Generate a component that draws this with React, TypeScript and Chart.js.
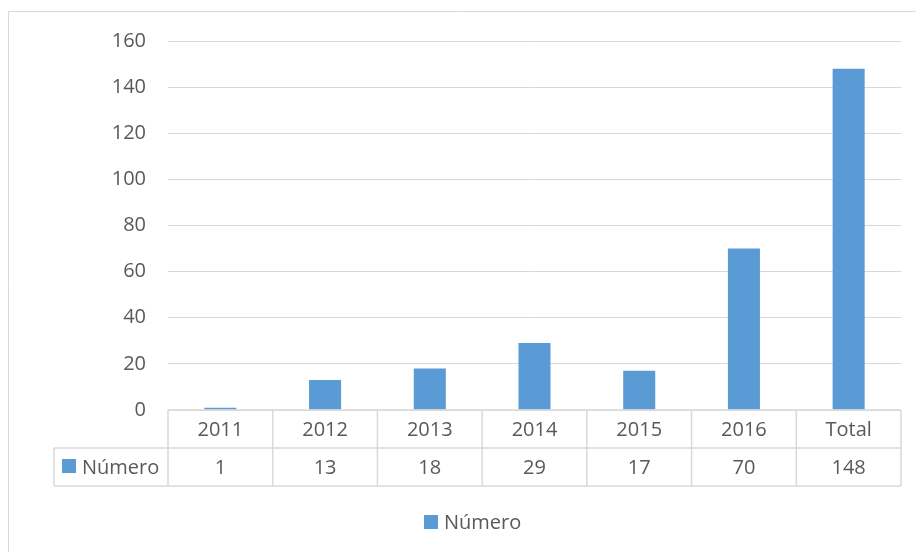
import React, { useEffect, useRef } from "react";
import { Chart, registerables } from "chart.js";

Chart.register(...registerables);

const categories: string[] = ["2011", "2012", "2013", "2014", "2015", "2016", "Total"];
const values: number[] = [1, 13, 18, 29, 17, 70, 148];
const seriesLabel = "Número";
const yMin = 0;
const yMax = 160;
const yStep = 20;

const FONT = "'Open Sans', sans-serif";
const TEXT_COLOR = "#595959";
const LINE_COLOR = "#d9d9d9";
const BAR_COLOR = "#5b9bd5";

const tablePlugin = {
  id: "dataTablePlugin",
  afterDraw(chart: any) {
    const ctx: CanvasRenderingContext2D = chart.ctx;
    const area = chart.chartArea;
    const xs = chart.scales.x;
    const n = categories.length;
    const edges: number[] = [area.left];
    for (let i = 1; i < n; i++) {
      edges.push((xs.getPixelForTick(i - 1) + xs.getPixelForTick(i)) / 2);
    }
    edges.push(area.right);
    const rowH = 38;
    const top = area.bottom;
    const mid = top + rowH;
    const bot = top + 2 * rowH;
    const labelLeft = 54;

    ctx.save();
    // outer chart border
    ctx.strokeStyle = LINE_COLOR;
    ctx.lineWidth = 1;
    ctx.beginPath();
    ctx.moveTo(8.5, chart.height + 5);
    ctx.lineTo(8.5, 11.5);
    ctx.lineTo(chart.width + 5, 11.5);
    ctx.stroke();

    // table lines
    ctx.lineWidth = 1.5;
    ctx.beginPath();
    ctx.moveTo(area.left, top);
    ctx.lineTo(area.right, top);
    ctx.moveTo(labelLeft, mid);
    ctx.lineTo(area.right, mid);
    ctx.moveTo(labelLeft, bot);
    ctx.lineTo(area.right, bot);
    ctx.moveTo(labelLeft, mid);
    ctx.lineTo(labelLeft, bot);
    edges.forEach((e) => {
      ctx.moveTo(e, top);
      ctx.lineTo(e, bot);
    });
    ctx.stroke();

    // texts
    ctx.fillStyle = TEXT_COLOR;
    ctx.font = `20px ${FONT}`;
    ctx.textAlign = "center";
    ctx.textBaseline = "middle";
    const ds = chart.data.datasets[0];
    for (let i = 0; i < n; i++) {
      const cx = (edges[i] + edges[i + 1]) / 2;
      ctx.fillText(String(chart.data.labels[i]), cx, top + rowH / 2 + 1);
      ctx.fillText(String(ds.data[i]), cx, mid + rowH / 2 + 1);
    }
    // row label
    ctx.fillStyle = ds.backgroundColor;
    ctx.fillRect(62, mid + 11, 14, 14);
    ctx.fillStyle = TEXT_COLOR;
    ctx.textAlign = "left";
    ctx.fillText(ds.label, 82, mid + rowH / 2 + 1);

    // bottom legend
    ctx.fillStyle = ds.backgroundColor;
    ctx.fillRect(424, 515, 14, 14);
    ctx.fillStyle = TEXT_COLOR;
    ctx.fillText(ds.label, 444, 523);
    ctx.restore();
  },
};

export default function App() {
  const ref = useRef<HTMLCanvasElement>(null);
  useEffect(() => {
    if (!ref.current) return;
    const chart = new Chart(ref.current, {
      type: "bar",
      data: {
        labels: categories,
        datasets: [
          {
            label: seriesLabel,
            data: values,
            backgroundColor: BAR_COLOR,
            borderWidth: 0,
            barPercentage: 0.306,
            categoryPercentage: 1,
          },
        ],
      },
      options: {
        responsive: false,
        animation: false,
        layout: { padding: { left: 0, top: 41, right: 15, bottom: 142 } },
        plugins: { legend: { display: false }, tooltip: { enabled: false } },
        scales: {
          x: { display: false, offset: true },
          y: {
            min: yMin,
            max: yMax,
            afterFit: (s: any) => {
              s.width = 168;
            },
            border: { display: false },
            grid: { color: LINE_COLOR, drawTicks: false, lineWidth: 1 },
            ticks: {
              stepSize: yStep,
              padding: 22,
              color: TEXT_COLOR,
              font: { family: FONT, size: 20 },
            },
          },
        },
      },
      plugins: [tablePlugin],
    });
    return () => chart.destroy();
  }, []);
  return (
    <div style={{ position: "fixed", left: 0, top: 0, width: 916, height: 552, background: "#fff" }}>
      <canvas ref={ref} width={916} height={552} />
    </div>
  );
}
